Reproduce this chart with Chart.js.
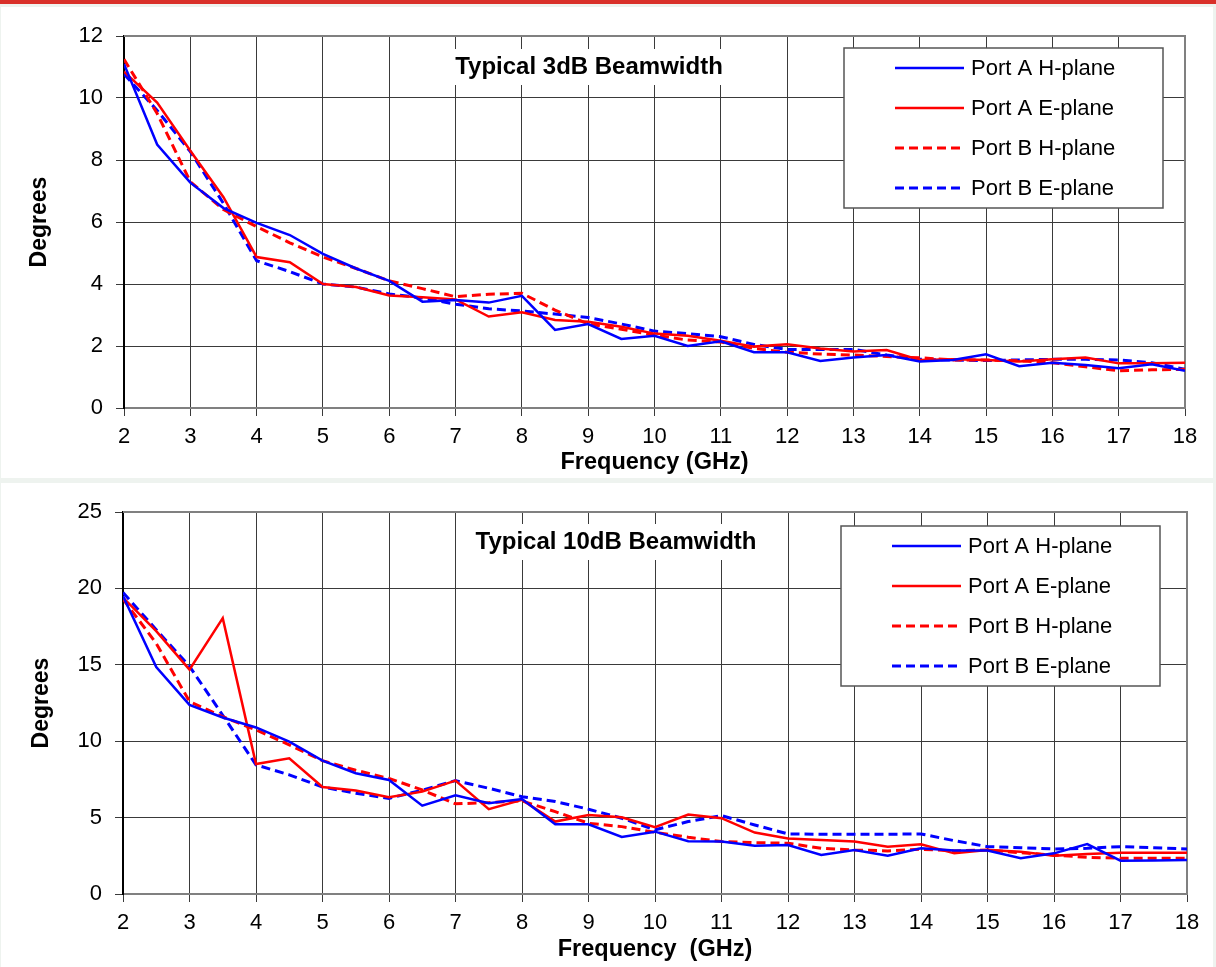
<!DOCTYPE html>
<html>
<head>
<meta charset="utf-8">
<script src="https://cdn.jsdelivr.net/npm/chart.js@4.4.1/dist/chart.umd.min.js"></script>
<style>
  body { margin: 0; background: #eef3ef; width: 1216px; height: 967px; overflow: hidden; position: relative; }
  #bar { position: absolute; left: 0; top: 0; width: 1216px; height: 4px; background: #d9302a; }
  .panel { position: absolute; left: 1px; width: 1212px; background: #fff; }
</style>
</head>
<body>
<div id="bar"></div>
<div class="panel" style="top:7px;height:471px"><canvas id="chart3db" width="1212" height="471"></canvas></div>
<div class="panel" style="top:483px;height:484px"><canvas id="chart10db" width="1212" height="484"></canvas></div>
<script>
// frequency points (GHz)
const freqs = [2, 2.5, 3, 3.5, 4, 4.5, 5, 5.5, 6, 6.5, 7, 7.5, 8, 8.5, 9, 9.5, 10, 10.5, 11, 11.5, 12, 12.5, 13, 13.5, 14, 14.5, 15, 15.5, 16, 16.5, 17, 17.5, 18]
const seriesNames = ["Port A H-plane", "Port A E-plane", "Port B H-plane", "Port B E-plane"]

// 3dB beamwidth (degrees)
const bw3_portA_H = [11.1, 8.5, 7.27, 6.45, 5.97, 5.58, 4.97, 4.5, 4.1, 3.43, 3.48, 3.4, 3.62, 2.52, 2.71, 2.23, 2.33, 2.0, 2.15, 1.8, 1.8, 1.52, 1.63, 1.71, 1.5, 1.55, 1.73, 1.35, 1.46, 1.39, 1.28, 1.41, 1.2]
const bw3_portA_E = [10.85, 9.85, 8.3, 6.8, 4.87, 4.7, 4.0, 3.9, 3.63, 3.57, 3.5, 2.95, 3.09, 2.84, 2.78, 2.62, 2.4, 2.33, 2.17, 1.98, 2.06, 1.92, 1.82, 1.87, 1.55, 1.57, 1.55, 1.5, 1.57, 1.63, 1.44, 1.44, 1.46]
const bw3_portB_H = [11.25, 9.5, 7.3, 6.4, 5.85, 5.33, 4.87, 4.5, 4.1, 3.85, 3.59, 3.67, 3.7, 3.16, 2.71, 2.54, 2.35, 2.19, 2.13, 1.92, 1.8, 1.74, 1.71, 1.66, 1.62, 1.55, 1.55, 1.52, 1.46, 1.33, 1.2, 1.23, 1.25]
const bw3_portB_E = [10.77, 9.6, 8.27, 6.6, 4.75, 4.4, 4.0, 3.9, 3.68, 3.55, 3.35, 3.2, 3.13, 3.03, 2.92, 2.71, 2.48, 2.4, 2.3, 2.05, 1.89, 1.89, 1.89, 1.71, 1.57, 1.55, 1.53, 1.55, 1.57, 1.57, 1.55, 1.46, 1.25]

// 10dB beamwidth (degrees)
const bw10_portA_H = [19.5, 14.85, 12.38, 11.55, 10.9, 9.97, 8.73, 7.9, 7.46, 5.78, 6.46, 5.94, 6.22, 4.56, 4.56, 3.73, 4.08, 3.45, 3.43, 3.16, 3.2, 2.56, 2.88, 2.51, 2.99, 2.84, 2.84, 2.34, 2.66, 3.27, 2.18, 2.2, 2.23]
const bw10_portA_E = [19.4, 17.2, 14.68, 18.05, 8.51, 8.88, 7.0, 6.77, 6.33, 6.7, 7.42, 5.55, 6.16, 4.74, 5.17, 5.02, 4.37, 5.2, 4.96, 4.02, 3.64, 3.54, 3.43, 3.1, 3.25, 2.66, 2.88, 2.77, 2.51, 2.62, 2.7, 2.7, 2.7]
const bw10_portB_H = [19.3, 16.4, 12.6, 11.6, 10.74, 9.76, 8.73, 8.1, 7.56, 6.81, 5.9, 5.98, 6.09, 5.39, 4.63, 4.41, 4.04, 3.71, 3.43, 3.36, 3.32, 2.99, 2.88, 2.82, 2.93, 2.82, 2.88, 2.7, 2.55, 2.4, 2.34, 2.34, 2.34]
const bw10_portB_E = [19.73, 17.3, 14.9, 11.7, 8.45, 7.8, 7.0, 6.6, 6.26, 6.8, 7.42, 6.92, 6.37, 6.05, 5.55, 4.96, 4.2, 4.74, 5.13, 4.52, 3.93, 3.91, 3.91, 3.91, 3.93, 3.49, 3.1, 3.03, 2.95, 2.99, 3.1, 3.03, 2.95]

const FONT = '"Liberation Sans", Arial, sans-serif'
const seriesStyle = [
    { borderColor: '#0000ff', borderWidth: 2.5, borderDash: [] },
    { borderColor: '#ff0000', borderWidth: 2.5, borderDash: [] },
    { borderColor: '#ff0000', borderWidth: 3, borderDash: [9, 5] },
    { borderColor: '#0000ff', borderWidth: 3, borderDash: [9, 5] }
]

function makeDatasets(allValues) {
    return allValues.map((values, i) => ({
        label: seriesNames[i],
        data: freqs.map((f, j) => ({ x: f, y: values[j] })),
        borderColor: seriesStyle[i].borderColor,
        borderWidth: seriesStyle[i].borderWidth,
        borderDash: seriesStyle[i].borderDash,
        pointRadius: 0,
        tension: 0,
        fill: false
    }))
}

// frame on top / right of the plot + title box inside plot
const plotDecor = {
    id: 'plotDecor',
    beforeDatasetsDraw(chart, args, opts) {
        const ctx = chart.ctx
        const a = chart.chartArea
        ctx.save()
        ctx.strokeStyle = '#808080'
        ctx.lineWidth = 2
        ctx.beginPath()
        ctx.moveTo(a.left, a.top)
        ctx.lineTo(a.right, a.top)
        ctx.lineTo(a.right, a.bottom)
        ctx.stroke()

        ctx.font = 'bold 24px ' + FONT
        const w = ctx.measureText(opts.text).width
        const cx = a.left + opts.dx
        const cy = a.top + opts.dy
        ctx.fillStyle = '#fff'
        ctx.fillRect(cx - w / 2 - 2, cy - 18, w + 4, 36)
        ctx.fillStyle = '#000'
        ctx.textAlign = 'center'
        ctx.textBaseline = 'middle'
        ctx.fillText(opts.text, cx, cy)
        ctx.restore()
    }
}

// legend box drawn inside plot area
const insideLegend = {
    id: 'insideLegend',
    afterDatasetsDraw(chart, args, opts) {
        const ctx = chart.ctx
        const a = chart.chartArea
        const x = a.right - opts.fromRight
        const y = a.top + opts.fromTop
        ctx.save()
        ctx.fillStyle = '#fff'
        ctx.fillRect(x, y, 319, 160)
        ctx.strokeStyle = '#555'
        ctx.lineWidth = 1.5
        ctx.strokeRect(x, y, 319, 160)
        chart.data.datasets.forEach((ds, i) => {
            const ly = y + 20 + i * 40
            ctx.strokeStyle = ds.borderColor
            ctx.lineWidth = ds.borderWidth
            ctx.setLineDash(ds.borderDash)
            ctx.beginPath()
            ctx.moveTo(x + 51, ly)
            ctx.lineTo(x + 120, ly)
            ctx.stroke()
            ctx.setLineDash([])
            ctx.fillStyle = '#000'
            ctx.font = '22px ' + FONT
            ctx.textAlign = 'left'
            ctx.textBaseline = 'middle'
            ctx.fillText(ds.label, x + 127, ly + 1)
        })
        ctx.restore()
    }
}

function makeConfig(datasets, yMax, yStep, xTitle, plotTitle, lay) {
    return {
        type: 'line',
        data: { datasets: datasets },
        plugins: [plotDecor, insideLegend],
        options: {
            responsive: false,
            animation: false,
            layout: { padding: { left: 0, right: lay.right, top: lay.top, bottom: 0 } },
            scales: {
                x: {
                    type: 'linear',
                    min: 2,
                    max: 18,
                    afterFit: (scale) => { scale.height = lay.xHeight },
                    ticks: { stepSize: 1, color: '#000', padding: 8, font: { family: FONT, size: 22 } },
                    grid: { color: '#3a3a3a', lineWidth: 1, tickLength: 8 },
                    border: { color: '#808080', width: 2 },
                    title: {
                        display: true,
                        text: xTitle,
                        color: '#000',
                        font: { family: FONT, size: 23.5, weight: 'bold' },
                        padding: { top: 0, bottom: lay.xTitlePad }
                    }
                },
                y: {
                    min: 0,
                    max: yMax,
                    afterFit: (scale) => { scale.width = lay.yWidth },
                    ticks: { stepSize: yStep, color: '#000', padding: 13, font: { family: FONT, size: 22 } },
                    grid: { color: '#3a3a3a', lineWidth: 1, tickLength: 8 },
                    border: { color: '#000', width: 2 },
                    title: {
                        display: true,
                        text: 'Degrees',
                        color: '#000',
                        font: { family: FONT, size: 23, weight: 'bold' },
                        padding: { top: lay.yTitlePad, bottom: 0 }
                    }
                }
            },
            plugins: {
                legend: { display: false },
                tooltip: { enabled: false },
                plotDecor: { text: plotTitle, dx: lay.titleDx, dy: lay.titleDy },
                insideLegend: { fromRight: lay.legRight, fromTop: lay.legTop }
            }
        }
    }
}

const chart3 = new Chart(document.getElementById('chart3db'), makeConfig(
    makeDatasets([bw3_portA_H, bw3_portA_E, bw3_portB_H, bw3_portB_E]),
    12, 2, 'Frequency (GHz)', 'Typical 3dB Beamwidth',
    { right: 28, top: 29, xHeight: 70, yWidth: 123, xTitlePad: 1, yTitlePad: 25, titleDx: 465, titleDy: 31, legRight: 341, legTop: 12 }
))

const chart10 = new Chart(document.getElementById('chart10db'), makeConfig(
    makeDatasets([bw10_portA_H, bw10_portA_E, bw10_portB_H, bw10_portB_E]),
    25, 5, 'Frequency  (GHz)', 'Typical 10dB Beamwidth',
    { right: 26, top: 29, xHeight: 73, yWidth: 122, xTitlePad: 3, yTitlePad: 27, titleDx: 493, titleDy: 30, legRight: 346, legTop: 14 }
))
</script>
</body>
</html>
